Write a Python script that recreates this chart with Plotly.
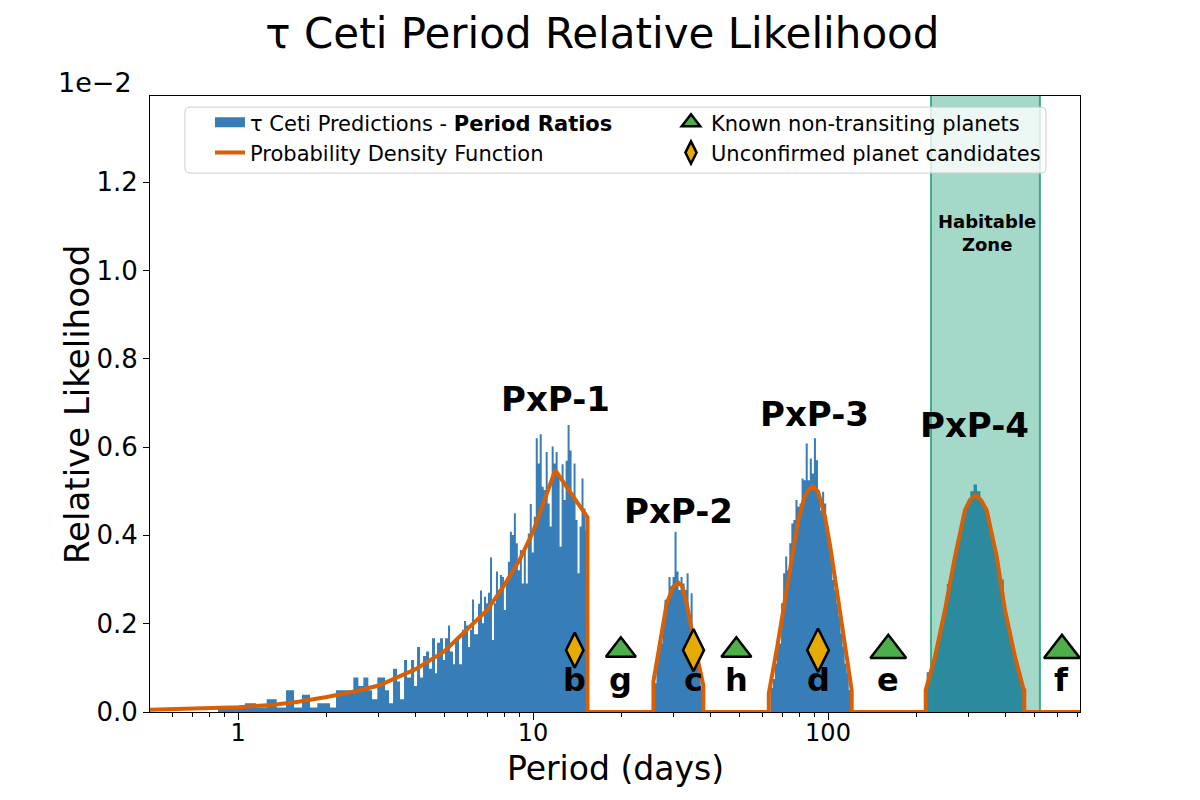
import numpy as np
import plotly.graph_objects as go

# ---------------- data (relative likelihood in units of 1e-2) ----------------
# sparse short-period tail: explicit bin edges (days) and bar heights
tail_edges = [0.8553, 1.0562, 1.1509, 1.2510, 1.3527, 1.4545, 1.5482, 1.6480, 1.7539, 1.8567,
              2.0504, 2.1486, 2.4600, 2.5578, 2.6597, 2.7655, 2.8466, 2.9669, 3.1503, 3.2502,
              3.3534, 3.4597, 3.5417, 3.6541, 3.7407, 3.8594, 3.9509, 4.0444, 4.1402, 4.2382,
              4.3386, 4.4414, 4.5465, 4.6542, 4.7275, 4.8394, 4.9540, 5.0320, 5.1512, 5.2323,
              5.3562, 5.4405, 5.6134, 5.7463, 5.8368, 5.9287, 6.0221, 6.1169, 6.2132, 6.3096,
              6.5098, 6.6123, 6.7164]
tail_heights = [0.010, 0.020, 0.010, 0.029, 0.010, 0.049, 0.010, 0.039, 0.010, 0.020,
                0.010, 0.049, 0.078, 0.059, 0.078, 0.049, 0.029, 0.078, 0.049, 0.020,
                0.098, 0.069, 0.029, 0.118, 0.078, 0.118, 0.059, 0.147, 0.078, 0.127,
                0.137, 0.098, 0.167, 0.088, 0.157, 0.167, 0.118, 0.167, 0.196, 0.137,
                0.108, 0.167, 0.108, 0.186, 0.206, 0.196, 0.147, 0.186, 0.255, 0.176,
                0.245, 0.275]

# dense regions: (first edge, last edge) in days with log-spaced bins, and bar heights
pxp1_range = (6.7164, 15.3)
pxp1_heights = [0.201, 0.261, 0.246, 0.270, 0.350, 0.163, 0.246, 0.318, 0.276, 0.310,
                0.306, 0.231, 0.299, 0.340, 0.408, 0.401, 0.450, 0.382, 0.321, 0.367,
                0.291, 0.374, 0.291, 0.404, 0.471, 0.361, 0.442, 0.620, 0.563, 0.629,
                0.510, 0.503, 0.589, 0.472, 0.420, 0.601, 0.563, 0.589, 0.533, 0.374,
                0.561, 0.480, 0.569, 0.650, 0.592, 0.495, 0.563, 0.435, 0.314, 0.420,
                0.529, 0.461, 0.412]
pxp2_range = (25.8, 37.6)
pxp2_heights = [0.065, 0.110, 0.148, 0.155, 0.201, 0.254, 0.246, 0.306, 0.284, 0.306,
                0.408, 0.318, 0.276, 0.306, 0.291, 0.276, 0.314, 0.216, 0.269, 0.178,
                0.155, 0.110, 0.080, 0.050]
pxp3_range = (64.0, 119.5)
pxp3_heights = [0.055, 0.075, 0.110, 0.171, 0.155, 0.246, 0.314, 0.352, 0.321, 0.382,
                0.427, 0.435, 0.480, 0.465, 0.472, 0.529, 0.525, 0.608, 0.525, 0.574,
                0.540, 0.620, 0.570, 0.495, 0.457, 0.499, 0.472, 0.420, 0.374, 0.352,
                0.299, 0.276, 0.246, 0.216, 0.178, 0.148, 0.110, 0.088, 0.050]
pxp4_range = (216.0, 461.7)
pxp4_heights = [0.090, 0.100, 0.126, 0.161, 0.197, 0.233, 0.290, 0.314, 0.354, 0.390,
                0.425, 0.458, 0.474, 0.500, 0.515, 0.500, 0.476, 0.462, 0.435, 0.399,
                0.365, 0.320, 0.300, 0.225, 0.189, 0.154, 0.119, 0.091, 0.062]

# probability density function
pdf_period = [0.503, 0.75, 1.0, 1.3, 1.6, 2.0, 2.5, 3.0, 3.5, 4.0,
              5.0, 6.0, 7.0, 8.0, 9.0, 10.0, 11.0, 11.9, 13.0, 14.0, 15.3, 15.3,
              25.6, 25.6, 26.96, 28.4, 29.9, 31.08, 32.07, 33.19, 35.23, 37.33, 37.8, 37.8,
              63.0, 63.0, 67.3, 73.35, 79.3, 83.6, 88.5, 92.5, 97.7, 101.8, 107.9, 114.2,
              118.7, 120.3, 120.3,
              214.4, 214.4, 230.5, 249.2, 269.5, 291.3, 302.9, 316.7, 330.1, 345.1, 373.2,
              398.1, 430.5, 459.2, 462.9, 462.9, 715.0]
pdf_value = [0.005, 0.008, 0.011, 0.016, 0.023, 0.034, 0.047, 0.060, 0.080, 0.097,
             0.137, 0.187, 0.231, 0.288, 0.344, 0.408, 0.486, 0.548, 0.510, 0.478, 0.441, 0.0,
             0.0, 0.069, 0.155, 0.246, 0.284, 0.293, 0.284, 0.246, 0.155, 0.072, 0.060, 0.0,
             0.0, 0.042, 0.148, 0.299, 0.435, 0.491, 0.512, 0.499, 0.442, 0.374, 0.261, 0.148,
             0.072, 0.050, 0.0,
             0.0, 0.050, 0.125, 0.231, 0.352, 0.457, 0.480, 0.491, 0.480, 0.457, 0.352,
             0.231, 0.125, 0.054, 0.050, 0.0, 0.0]

# habitable zone (days)
hz_inner, hz_outer = 223.4, 523.1

# planets
planet_names = ['b', 'g', 'c', 'h', 'd', 'e', 'f']
planet_periods = [13.85, 19.85, 35.0, 48.9, 92.5, 160.1, 621.0]
planet_known = [False, True, False, True, False, True, True]
planet_msize = [25, 26, 30, 26, 31, 31, 31]
marker_level = 0.14
letter_level = 0.072

# peak labels
peak_labels = ['PxP-1', 'PxP-2', 'PxP-3', 'PxP-4']
peak_label_period = [11.9, 31.1, 90.3, 315.0]
peak_label_value = [0.709, 0.456, 0.674, 0.650]

x_ticks = [1, 10, 100]
x_minor = [0.6, 0.7, 0.8, 0.9, 2, 3, 4, 5, 6, 7, 8, 9, 20, 30, 40, 50, 60, 70, 80, 90,
           200, 300, 400, 500, 600, 700]
y_ticks = [0.0, 0.2, 0.4, 0.6, 0.8, 1.0, 1.2]
X_MIN, X_MAX = 0.503, 715.0
Y_MAX = 1.395

BLUE = '#377eb8'
ORANGE = '#d95f02'
GREEN = '#4daf4a'
GOLD = '#e6ab02'
FONT = 'DejaVu Sans'

# ---------------- build histogram outline ----------------
hist_x, hist_y = [], []


def add_segment(edges, heights):
    hist_x.extend(list(edges))
    hist_y.extend(list(heights) + [0.0])


add_segment(tail_edges, tail_heights)
for rng, hts in [(pxp1_range, pxp1_heights), (pxp2_range, pxp2_heights),
                 (pxp3_range, pxp3_heights), (pxp4_range, pxp4_heights)]:
    add_segment(np.geomspace(rng[0], rng[1], len(hts) + 1), hts)

fig = go.Figure()

fig.add_trace(go.Scatter(x=hist_x, y=hist_y, mode='lines',
                         line=dict(width=0, shape='hv', color=BLUE),
                         fill='tozeroy', fillcolor=BLUE, showlegend=False, hoverinfo='skip'))

# habitable zone band (above bars, below curve)
fig.add_trace(go.Scatter(x=[hz_inner, hz_inner, hz_outer, hz_outer, hz_inner],
                         y=[0, Y_MAX, Y_MAX, 0, 0], mode='lines', fill='toself',
                         fillcolor='rgba(27,158,119,0.4)', line=dict(width=0),
                         showlegend=False, hoverinfo='skip'))
fig.add_trace(go.Scatter(x=[hz_inner, hz_inner, None, hz_outer, hz_outer],
                         y=[0, Y_MAX, None, 0, Y_MAX], mode='lines',
                         line=dict(color='rgba(27,158,119,0.8)', width=2),
                         showlegend=False, hoverinfo='skip'))

# legend stand-in for histogram patch
fig.add_trace(go.Scatter(x=[None], y=[None], mode='lines',
                         line=dict(color=BLUE, width=14),
                         name='τ Ceti Predictions - <b>Period Ratios</b>',
                         legend='legend', legendrank=1))

fig.add_trace(go.Scatter(x=pdf_period, y=pdf_value, mode='lines',
                         line=dict(color=ORANGE, width=4),
                         name='Probability Density Function',
                         legend='legend', legendrank=2))

kx = [p for p, k in zip(planet_periods, planet_known) if k]
ks = [s for s, k in zip(planet_msize, planet_known) if k]
cx = [p for p, k in zip(planet_periods, planet_known) if not k]
cs = [s for s, k in zip(planet_msize, planet_known) if not k]

fig.add_trace(go.Scatter(x=kx, y=[marker_level] * len(kx), mode='markers',
                         marker=dict(symbol='triangle-up', size=ks, color=GREEN, opacity=1,
                                     line=dict(color='black', width=2.5)),
                         name='Known non-transiting planets', legend='legend2', legendrank=1))
fig.add_trace(go.Scatter(x=cx, y=[marker_level] * len(cx), mode='markers',
                         marker=dict(symbol='diamond-tall', size=cs, color=GOLD, opacity=1,
                                     line=dict(color='black', width=2.5)),
                         name='Unconfirmed planet candidates', legend='legend2', legendrank=2))

annotations = []
for n, p in zip(planet_names, planet_periods):
    annotations.append(dict(x=np.log10(p), y=letter_level, xref='x', yref='y', text=n,
                            showarrow=False, xanchor='center', yanchor='middle',
                            font=dict(size=32, family=FONT, color='black', weight='bold')))
for t, p, v in zip(peak_labels, peak_label_period, peak_label_value):
    annotations.append(dict(x=np.log10(p), y=v, xref='x', yref='y', text=t,
                            showarrow=False, xanchor='center', yanchor='middle',
                            font=dict(size=34, family=FONT, color='black', weight='bold')))
annotations.append(dict(x=np.log10(346), y=1.084, xref='x', yref='y',
                        text='Habitable<br>Zone', showarrow=False,
                        xanchor='center', yanchor='middle',
                        font=dict(size=18, family=FONT, color='black', weight='bold')))
annotations.append(dict(x=0.5, y=-0.0925, xref='paper', yref='paper', text='Period (days)',
                        showarrow=False, xanchor='center', yanchor='middle',
                        font=dict(size=33, family=FONT, color='black')))
annotations.append(dict(x=-0.0785, y=0.5, xref='paper', yref='paper', text='Relative Likelihood',
                        showarrow=False, xanchor='center', yanchor='middle', textangle=-90,
                        font=dict(size=34, family=FONT, color='black')))
annotations.append(dict(x=-0.059, y=1.0227, xref='paper', yref='paper', text='1e\u22122',
                        showarrow=False, xanchor='center', yanchor='middle',
                        font=dict(size=27, family=FONT, color='black')))

# legend frame with rounded corners (paper coords)
fx0, fx1, fy0, fy1 = 0.0376, 0.9634, 0.875, 0.982
rx, ry = 5 / 930, 5 / 616
frame_path = (f'M {fx0 + rx},{fy1} L {fx1 - rx},{fy1} Q {fx1},{fy1} {fx1},{fy1 - ry} '
              f'L {fx1},{fy0 + ry} Q {fx1},{fy0} {fx1 - rx},{fy0} '
              f'L {fx0 + rx},{fy0} Q {fx0},{fy0} {fx0},{fy0 + ry} '
              f'L {fx0},{fy1 - ry} Q {fx0},{fy1} {fx0 + rx},{fy1} Z')

fig.update_layout(
    width=1200, height=800,
    margin=dict(l=150, r=120, t=96, b=88),
    paper_bgcolor='white', plot_bgcolor='white',
    font=dict(family=FONT, color='black'),
    title=dict(text='τ Ceti Period Relative Likelihood', x=0.502, xanchor='center',
               y=1 - 33 / 800, yanchor='middle', font=dict(size=42, family=FONT)),
    xaxis=dict(type='log', range=[np.log10(X_MIN), np.log10(X_MAX)],
               tickvals=x_ticks, ticktext=[str(v) for v in x_ticks],
               ticks='outside', ticklen=7, tickwidth=1, tickcolor='black',
               ticklabelstandoff=-8,
               showline=True, linecolor='black', linewidth=1, mirror=True,
               showgrid=False, zeroline=False, tickfont=dict(size=24),
               minor=dict(tickvals=x_minor, ticks='outside', ticklen=4,
                          tickcolor='black', showgrid=False)),
    yaxis=dict(range=[0, Y_MAX], tickvals=y_ticks, ticktext=[f'{v:.1f}' for v in y_ticks],
               ticks='outside', ticklen=6, tickwidth=1, tickcolor='black',
               showline=True, linecolor='black', linewidth=1, mirror=True,
               showgrid=False, zeroline=False, tickfont=dict(size=26)),
    legend=dict(x=0.0645, y=0.990, xanchor='left', yanchor='top',
                bgcolor='rgba(0,0,0,0)', borderwidth=0, font=dict(size=21)),
    legend2=dict(x=0.5602, y=0.990, xanchor='left', yanchor='top',
                 bgcolor='rgba(0,0,0,0)', borderwidth=0, font=dict(size=21)),
    annotations=annotations,
    shapes=[dict(type='path', xref='paper', yref='paper', path=frame_path,
                 fillcolor='rgba(255,255,255,0.8)',
                 line=dict(color='#cccccc', width=1), layer='above')],
)

fig.write_html('out.html', config={'displayModeBar': False},
               post_script="document.body.style.margin='0px';")
